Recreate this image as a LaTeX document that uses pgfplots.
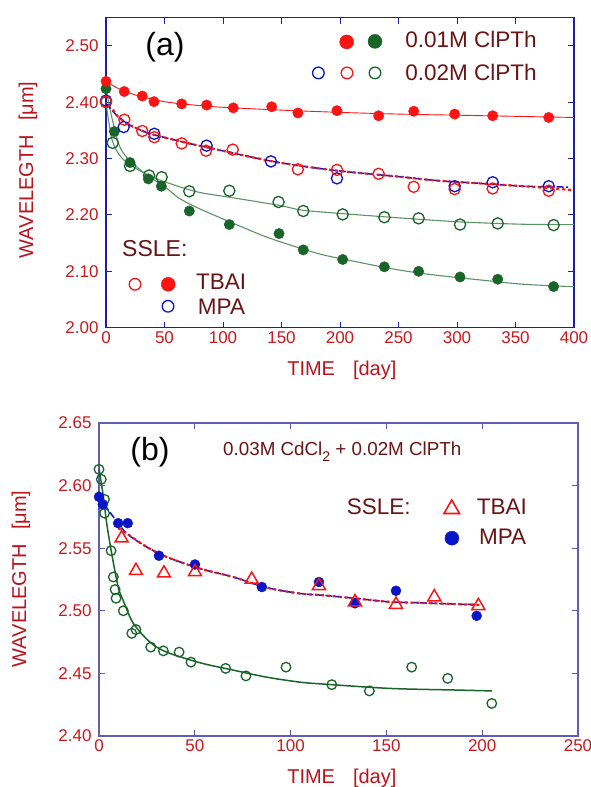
\documentclass[border=0pt]{standalone}
\usepackage{pgfplots}
\pgfplotsset{compat=1.18}
\usepackage{fontspec}
\setmainfont{Liberation Sans}
\definecolor{tickred}{RGB}{200,25,30}
\definecolor{labred}{RGB}{185,20,30}
\definecolor{maroon}{RGB}{105,20,20}
\definecolor{axblueA}{RGB}{30,30,170}
\definecolor{axblueB}{RGB}{95,95,185}
\definecolor{mred}{RGB}{250,20,20}
\definecolor{mgreen}{RGB}{25,100,40}
\definecolor{lgreen}{RGB}{95,145,105}
\definecolor{mblue}{RGB}{10,20,200}
\pgfplotsset{
  mystyle/.style={
    scale only axis, clip=false,
    axis line style={line width=1.2pt},
    tick align=inside, major tick length=6pt,
    tick style={line width=1pt},
    ticklabel style={font=\fontsize{17}{20}\selectfont, text=tickred},
    y tick label style={xshift=-4pt},
    /pgf/number format/assume math mode=true,
  },
  fill/.style={only marks, mark=*, mark size=5.2pt, mark options={draw=#1, fill=#1}},
  open/.style={only marks, mark=o, mark size=5.6pt, mark options={draw=#1, line width=1.3pt}},
}
\begin{document}
\begin{tikzpicture}
\useasboundingbox (0,0) rectangle (591pt,787pt);
% ---------------- panel (a)
\begin{axis}[mystyle,
  at={(106pt,459.3pt)}, anchor=south west,
  width=468pt, height=310pt,
  xmin=0, xmax=400, ymin=2.0, ymax=2.55,
  xtick={0,50,...,400}, ytick={2.0,2.1,2.2,2.3,2.4,2.5},
  y tick label style={/pgf/number format/.cd, fixed, fixed zerofill, precision=2},
  axis line style={draw=axblueA, line width=1.2pt}, tick style={draw=axblueA, line width=1pt},
  xlabel={TIME\hspace{0.9em}[day]}, ylabel={WAVELEGTH\hspace{0.7em}[μm]},
  every axis x label/.style={at={(axis description cs:0.504,-0.136)}, anchor=center, font=\fontsize{20}{24}\selectfont, text=labred},
  every axis y label/.style={at={(axis description cs:-0.1667,0.509)}, anchor=center, rotate=90, font=\fontsize{20}{24}\selectfont, text=labred},
]
% fit lines
\addplot[mred, line width=0.9pt, smooth] coordinates {(0,2.437)(10,2.425)(25,2.413)(50,2.401)(75,2.395)(100,2.391)(150,2.386)(200,2.382)(250,2.379)(300,2.377)(350,2.375)(400,2.373)};
\addplot[lgreen, line width=1.1pt, smooth] coordinates {(0,2.424)(5,2.373)(12,2.320)(22,2.293)(37.6,2.267)(52,2.247)(63,2.229)(80,2.211)(109,2.185)(137,2.161)(166,2.141)(186,2.129)(214,2.117)(243,2.105)(271,2.096)(300,2.089)(328,2.083)(357,2.077)(400,2.0726)};
\addplot[lgreen, line width=1.1pt, smooth] coordinates {(0,2.400)(5,2.335)(12,2.305)(22,2.287)(40,2.267)(60,2.252)(80,2.240)(110,2.230)(148,2.217)(166,2.209)(186,2.205)(243,2.196)(300,2.188)(357,2.1835)(400,2.183)};
\addplot[mblue, line width=1.5pt, dash pattern=on 7pt off 2.5pt, smooth] coordinates {(0,2.398)(10,2.375)(20,2.360)(35,2.346)(53,2.336)(75,2.325)(95,2.316)(135,2.298)(160,2.289)(200,2.278)(250,2.268)(283,2.261)(320,2.256)(357,2.251)(395,2.2495)};
\addplot[mred, line width=2.2pt, dash pattern=on 3pt off 3pt, smooth] coordinates {(6,2.387)(10,2.375)(20,2.360)(35,2.346)(53,2.336)(75,2.325)(95,2.316)(135,2.298)(160,2.289)(200,2.278)(250,2.268)(283,2.261)(320,2.256)(357,2.251)(400,2.244)};
% data
\addplot[open=mgreen] coordinates {(0,2.400)(5.7,2.328)(20.5,2.287)(36.8,2.270)(47.6,2.267)(71.2,2.242)(105.4,2.243)(147.5,2.223)(168.6,2.207)(202.3,2.201)(237.9,2.196)(267.2,2.194)(302.6,2.183)(334.8,2.185)(382.6,2.182)};
\addplot[fill=mgreen] coordinates {(0,2.424)(7.1,2.348)(20.5,2.293)(36.2,2.264)(47.3,2.251)(71.2,2.207)(105.4,2.183)(147.9,2.167)(168.6,2.138)(202.3,2.121)(237.9,2.108)(267.2,2.100)(302.6,2.090)(334.8,2.086)(382.6,2.073)};
\addplot[open=mblue] coordinates {(0,2.403)(15.1,2.356)(41.3,2.344)(86,2.323)(141,2.295)(197.4,2.265)(298,2.251)(330.5,2.258)(378.4,2.251)};
\addplot[open=mred] coordinates {(0,2.401)(15.7,2.369)(31,2.349)(41.3,2.338)(64.7,2.327)(85.5,2.314)(108.3,2.316)(164,2.281)(197.4,2.280)(233,2.273)(263,2.250)(298,2.246)(330.5,2.247)(378.4,2.243)};
\addplot[fill=mred] coordinates {(0,2.437)(15.6,2.419)(31,2.411)(41,2.401)(64.7,2.397)(86,2.395)(108.8,2.390)(141.6,2.392)(164,2.381)(197.4,2.385)(233,2.376)(263,2.384)(298,2.379)(330.5,2.376)(378.4,2.373)};
% legend markers
\addplot[only marks, mark=*, mark size=7pt, mark options={draw=mred, fill=mred}] coordinates {(205.7,2.507)(53.2,2.077)};
\addplot[only marks, mark=*, mark size=7pt, mark options={draw=mgreen, fill=mgreen}] coordinates {(229.9,2.508)};
\addplot[only marks, mark=o, mark size=5.8pt, mark options={draw=mblue, line width=1.3pt}] coordinates {(181.5,2.452)(53,2.038)};
\addplot[only marks, mark=o, mark size=5.8pt, mark options={draw=mred, line width=1.3pt}] coordinates {(206,2.452)(24.8,2.077)};
\addplot[only marks, mark=o, mark size=5.8pt, mark options={draw=mgreen, line width=1.3pt}] coordinates {(229.9,2.452)};
\node[anchor=center, font=\fontsize{32}{36}\selectfont] at (axis cs:50.4,2.497) {(a)};
\node[anchor=west, inner sep=0pt, text=maroon, font=\fontsize{22.5}{26}\selectfont] at (axis cs:255.6,2.512) {0.01M ClPTh};
\node[anchor=west, inner sep=0pt, text=maroon, font=\fontsize{22.5}{26}\selectfont] at (axis cs:255.6,2.453) {0.02M ClPTh};
\node[anchor=west, inner sep=0pt, text=maroon, font=\fontsize{23}{26}\selectfont] at (axis cs:13.7,2.1405) {SSLE:};
\node[anchor=west, inner sep=0pt, text=maroon, font=\fontsize{22.5}{26}\selectfont] at (axis cs:76.9,2.081) {TBAI};
\node[anchor=west, inner sep=0pt, text=maroon, font=\fontsize{22.5}{26}\selectfont] at (axis cs:78.4,2.037) {MPA};
\end{axis}
% ---------------- panel (b)
\begin{axis}[mystyle,
  at={(99pt,51pt)}, anchor=south west,
  width=479pt, height=313pt,
  xmin=0, xmax=250, ymin=2.40, ymax=2.65,
  xtick={0,50,...,250}, ytick={2.40,2.45,2.50,2.55,2.60,2.65},
  y tick label style={/pgf/number format/.cd, fixed, fixed zerofill, precision=2},
  axis line style={draw=axblueB, line width=1.2pt}, tick style={draw=axblueB, line width=1pt},
  xlabel={TIME\hspace{0.9em}[day]}, ylabel={WAVELEGTH\hspace{0.7em}[μm]},
  every axis x label/.style={at={(axis description cs:0.507,-0.134)}, anchor=center, font=\fontsize{20}{24}\selectfont, text=labred},
  every axis y label/.style={at={(axis description cs:-0.163,0.502)}, anchor=center, rotate=90, font=\fontsize{20}{24}\selectfont, text=labred},
]
\addplot[mgreen, line width=1.5pt, smooth] coordinates {(0,2.6135)(2.3,2.591)(4,2.570)(6.6,2.546)(10,2.519)(12.7,2.508)(17.9,2.490)(26.6,2.475)(35.3,2.467)(52.7,2.4585)(70.1,2.4526)(87.5,2.447)(104.9,2.443)(117,2.4415)(151.9,2.438)(186.7,2.4367)(205,2.436)};
\addplot[mblue, line width=1.5pt, dash pattern=on 7pt off 2.5pt, smooth] coordinates {(0,2.591)(7.5,2.575)(14.5,2.5617)(24.9,2.551)(35.3,2.543)(52.7,2.5337)(70.1,2.527)(87.5,2.5185)(104.9,2.5138)(117,2.5124)(134.5,2.5098)(151.9,2.5071)(169.3,2.5063)(186.7,2.5053)(197,2.505)};
\addplot[mred, line width=2.2pt, dash pattern=on 3pt off 3pt, smooth] coordinates {(10,2.566)(14.5,2.5617)(24.9,2.551)(35.3,2.543)(52.7,2.5337)(70.1,2.527)(87.5,2.5185)(104.9,2.5138)(117,2.5124)(134.5,2.5098)(151.9,2.5071)(169.3,2.5063)(186.7,2.5053)(199.7,2.5045)};
\addplot[only marks, mark=o, mark size=4.8pt, mark options={draw=mgreen, line width=1.3pt}] coordinates {(0,2.613)(1.2,2.605)(2.9,2.589)(2.9,2.578)(6.3,2.548)(7.5,2.527)(8.4,2.517)(8.9,2.510)(12.7,2.500)(17.1,2.482)(19.3,2.485)(27,2.471)(33.6,2.468)(41.8,2.467)(48,2.459)(66.1,2.454)(76.7,2.448)(97.6,2.455)(121.5,2.441)(141.1,2.436)(163.2,2.455)(182,2.446)(205,2.426)};
\addplot[only marks, mark=*, mark size=5pt, mark options={draw=mblue, fill=mblue}] coordinates {(0,2.591)(2,2.585)(10,2.570)(15,2.570)(31.3,2.544)(50.1,2.537)(85,2.519)(114.8,2.523)(133.6,2.506)(155,2.516)(197.1,2.496)};
\addplot[only marks, mark=triangle, mark size=7.5pt, mark options={draw=mred, line width=1.5pt}] coordinates {(11.8,2.558)(19.3,2.532)(33.9,2.530)(50.1,2.531)(79.7,2.525)(114.8,2.520)(133.6,2.507)(155,2.505)(175,2.511)(198,2.504)};
% legend
\addplot[only marks, mark=triangle, mark size=9pt, mark options={draw=mred, line width=1.6pt}] coordinates {(184.1,2.5813)};
\addplot[only marks, mark=*, mark size=7pt, mark options={draw=mblue, fill=mblue}] coordinates {(184.2,2.558)};
\node[anchor=center, font=\fontsize{32}{36}\selectfont] at (axis cs:26.6,2.6267) {(b)};
\node[anchor=west, inner sep=0pt, text=maroon, font=\fontsize{18.8}{22}\selectfont] at (axis cs:64.7,2.6267) {0.03M CdCl\raisebox{-6pt}{\fontsize{14}{16}\selectfont 2} + 0.02M ClPTh};
\node[anchor=west, inner sep=0pt, text=maroon, font=\fontsize{22.5}{26}\selectfont] at (axis cs:129.3,2.583) {SSLE:};
\node[anchor=west, inner sep=0pt, text=maroon, font=\fontsize{22.5}{26}\selectfont] at (axis cs:197.1,2.583) {TBAI};
\node[anchor=west, inner sep=0pt, text=maroon, font=\fontsize{22.5}{26}\selectfont] at (axis cs:198.3,2.559) {MPA};
\end{axis}
\end{tikzpicture}
\end{document}
